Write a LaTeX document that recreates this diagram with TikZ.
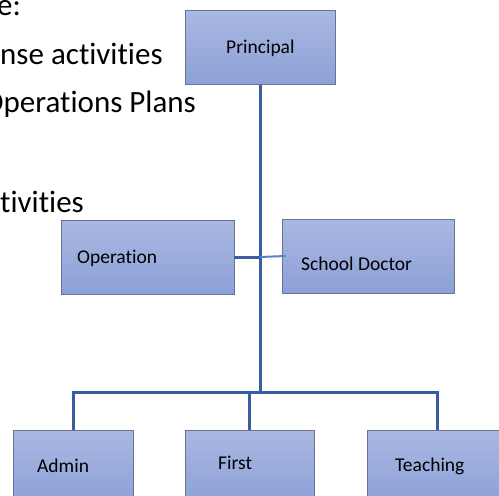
\documentclass[tikz,border=0pt]{standalone}
\usepackage{fontspec}
\setmainfont{Carlito}[Ligatures=NoCommon]
\usetikzlibrary{positioning}
\definecolor{boxtop}{RGB}{170,183,225}
\definecolor{boxbot}{RGB}{140,161,216}
\definecolor{boxline}{RGB}{105,115,150}
\definecolor{trunk}{RGB}{58,92,163}
\definecolor{twig}{RGB}{82,132,200}
\begin{document}
\begin{tikzpicture}[x=1pt,y=-1pt,
  box/.style={draw=boxline,line width=0.8pt,top color=boxtop,bottom color=boxbot,minimum width=#1,minimum height=74pt,inner sep=0pt},
  lbl/.style={anchor=base west,inner sep=0pt,font=\fontsize{19.5}{23}\selectfont},
  body/.style={anchor=base west,inner sep=0pt,font=\fontsize{31}{37}\selectfont},
  tie/.style={draw=trunk,line width=3pt},
  thin tie/.style={draw=twig,line width=2pt}]
\useasboundingbox (0,0) rectangle (499,496);
\clip (0,0) rectangle (499,496);

\node[body] (t1) at (-3,15) {e:};
\node[body] (t2) at (0,64) {nse activities};
\node[body] (t3) at (-17,112) {Operations Plans};
\node[body] (t4) at (0,212) {tivities};

\node[box=150] (principal) at (260,47.5) {};
\node[box=173] (operation) at (147.5,257) {};
\node[box=172] (doctor) at (368,256) {};
\node[box=120] (admin) at (73,467) {};
\node[box=129] (first) at (249.5,467) {};
\node[box=140] (teaching) at (437,467) {};

\node[lbl] (lprincipal) at (226,53) {Principal};
\node[lbl] (loperation) at (77,263) {Operation};
\node[lbl] (ldoctor) at (301,270) {School Doctor};
\node[lbl] (ladmin) at (37,472) {Admin};
\node[lbl] (lfirst) at (218,469) {First};
\node[lbl] (lteaching) at (395,471) {Teaching};

\coordinate (mid) at (260,257);
\coordinate (hub) at (260,392);

\draw[tie] (principal.south) -- (hub);
\draw[tie] (operation.east) -- (mid);
\draw[thin tie] (mid) -- ([xshift=4pt]doctor.west);
\draw[tie] (admin.north) |- (hub) -| (teaching.north);
\draw[tie] (first.north) -- (first.north |- hub);

\end{tikzpicture}
\end{document}
